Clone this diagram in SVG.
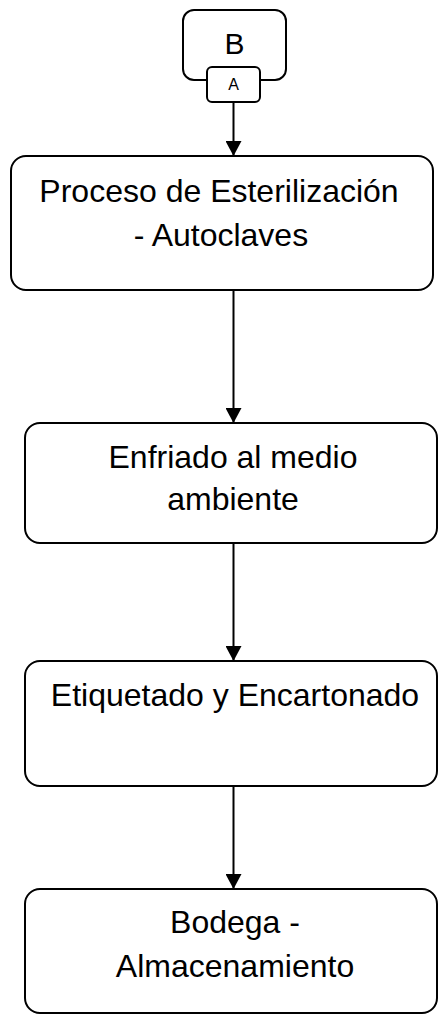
<svg xmlns="http://www.w3.org/2000/svg" width="438" height="1014" viewBox="0 0 438 1014">
<defs>
<style>
.box{fill:#fff;stroke:#000;stroke-width:2}
.t{font-family:"Liberation Sans",Arial,sans-serif;fill:#000;text-anchor:middle}
.big{font-size:32px}
.edge{stroke:#000;stroke-width:2;fill:none}
</style>
<marker id="ah" markerWidth="16" markerHeight="16" refX="14" refY="8" orient="auto" markerUnits="userSpaceOnUse" viewBox="0 0 15 16">
<path d="M0,0 L15,8 L0,16 Z" fill="#000"/>
</marker>
</defs>
<g id="connectors">
<line class="edge" x1="233.5" y1="102" x2="233.5" y2="155" marker-end="url(#ah)"/>
<line class="edge" x1="233.5" y1="290" x2="233.5" y2="422" marker-end="url(#ah)"/>
<line class="edge" x1="233.5" y1="543" x2="233.5" y2="660" marker-end="url(#ah)"/>
<line class="edge" x1="233.5" y1="786" x2="233.5" y2="888" marker-end="url(#ah)"/>
</g>
<g id="nodeB">
<rect class="box" x="183" y="10" width="103" height="70" rx="11"/>
<text class="t" x="234.5" y="54" font-size="30">B</text>
</g>
<g id="nodeA">
<rect class="box" x="207" y="67" width="53" height="35" rx="5" stroke-width="1.3"/>
<text class="t" x="233.5" y="90" font-size="16">A</text>
</g>
<g id="n1">
<rect class="box" x="11" y="156" width="422" height="134" rx="15"/>
<text class="t big" x="219" y="202">Proceso de Esterilización</text>
<text class="t big" x="221" y="246">- Autoclaves</text>
</g>
<g id="n2">
<rect class="box" x="25" y="423" width="412" height="120" rx="15"/>
<text class="t big" x="233" y="468">Enfriado al medio</text>
<text class="t big" x="233" y="510">ambiente</text>
</g>
<g id="n3">
<rect class="box" x="25" y="661" width="412" height="125" rx="15"/>
<text class="t big" x="235" y="706">Etiquetado y Encartonado</text>
</g>
<g id="n4">
<rect class="box" x="25" y="889" width="412" height="124" rx="15"/>
<text class="t big" x="235" y="933">Bodega -</text>
<text class="t big" x="235" y="977">Almacenamiento</text>
</g>
</svg>
